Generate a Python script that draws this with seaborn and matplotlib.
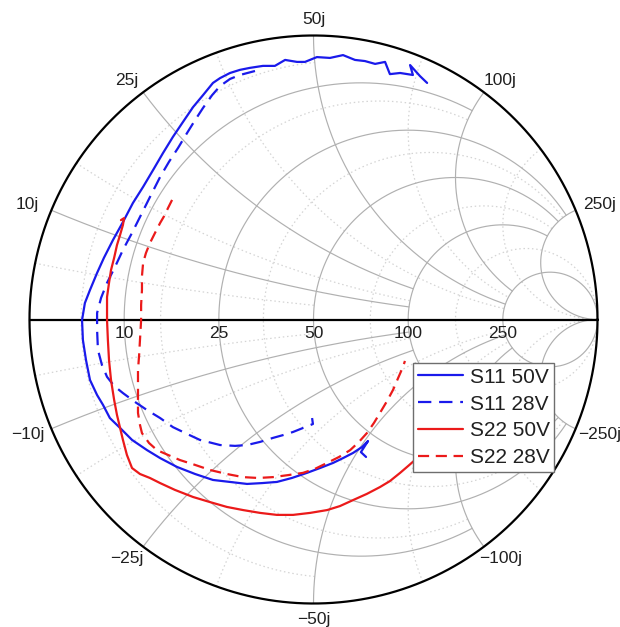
import numpy as np
import pandas as pd
import matplotlib
matplotlib.use("Agg")
import matplotlib.pyplot as plt
from matplotlib.lines import Line2D
import seaborn as sns

s11_50v_re = [0.400, 0.375, 0.340, 0.350, 0.305, 0.269, 0.252, 0.217, 0.181, 0.146, 0.104, 0.058,
              0.012, -0.030, -0.058, -0.100, -0.136, -0.178, -0.224, -0.259, -0.294, -0.329, -0.354,
              -0.389, -0.424, -0.460, -0.495, -0.530, -0.565, -0.600, -0.636, -0.671, -0.706, -0.738,
              -0.762, -0.787, -0.805, -0.815, -0.812, -0.801, -0.787, -0.762, -0.741, -0.717, -0.681,
              -0.639, -0.586, -0.540, -0.481, -0.417, -0.354, -0.294, -0.234, -0.181, -0.129, -0.076,
              -0.023, 0.023, 0.069, 0.104, 0.139, 0.171, 0.192, 0.167, 0.185]
s11_50v_im = [0.833, 0.857, 0.896, 0.861, 0.868, 0.864, 0.907, 0.900, 0.910, 0.914, 0.931, 0.921,
              0.924, 0.907, 0.907, 0.914, 0.893, 0.893, 0.886, 0.879, 0.868, 0.850, 0.833,
              0.790, 0.748, 0.695, 0.643, 0.586, 0.526, 0.467, 0.410, 0.343, 0.280, 0.217,
              0.164, 0.104, 0.058, -0.002, -0.072, -0.143, -0.213, -0.266, -0.301, -0.347, -0.382,
              -0.424, -0.460, -0.488, -0.519, -0.544, -0.565, -0.572, -0.579, -0.576, -0.572, -0.558,
              -0.540, -0.523, -0.505, -0.488, -0.470, -0.449, -0.428, -0.467, -0.484]

s11_28v_re = [-0.206, -0.259, -0.294, -0.329, -0.357, -0.389, -0.417, -0.445, -0.477, -0.509, -0.540,
              -0.576, -0.611, -0.639, -0.671, -0.699, -0.727, -0.748, -0.762, -0.762, -0.759, -0.745,
              -0.727, -0.702, -0.671, -0.629, -0.586, -0.540, -0.495, -0.445, -0.400, -0.329, -0.276,
              -0.234, -0.188, -0.143, -0.107, -0.072, -0.037, -0.002, -0.005]
s11_28v_im = [0.875, 0.861, 0.847, 0.822, 0.790, 0.745, 0.702, 0.657, 0.604, 0.555, 0.502,
              0.431, 0.361, 0.305, 0.245, 0.185, 0.129, 0.076, 0.023, -0.037, -0.107, -0.160,
              -0.202, -0.234, -0.259, -0.290, -0.319, -0.347, -0.379, -0.403, -0.424, -0.442, -0.445,
              -0.442, -0.431, -0.417, -0.407, -0.396, -0.382, -0.368, -0.347]

s22_50v_re = [-0.678, -0.667, -0.671, -0.681, -0.692, -0.702, -0.713, -0.720, -0.727, -0.727, -0.727,
              -0.724, -0.720, -0.713, -0.702, -0.692, -0.681, -0.671, -0.657, -0.639, -0.611, -0.576,
              -0.540, -0.488, -0.424, -0.364, -0.305, -0.248, -0.188, -0.129, -0.072, -0.012, 0.048,
              0.093, 0.139, 0.188, 0.234, 0.269, 0.305, 0.333, 0.357, 0.382]
s22_50v_im = [0.350, 0.357, 0.333, 0.298, 0.262, 0.217, 0.174, 0.129, 0.079, 0.033, -0.002,
              -0.072, -0.143, -0.213, -0.283, -0.336, -0.382, -0.424, -0.477, -0.523, -0.544, -0.558,
              -0.576, -0.600, -0.625, -0.643, -0.660, -0.671, -0.681, -0.688, -0.688, -0.681, -0.671,
              -0.657, -0.636, -0.614, -0.590, -0.569, -0.540, -0.516, -0.495, -0.474]

s22_28v_re = [-0.498, -0.512, -0.526, -0.540, -0.558, -0.576, -0.590, -0.600, -0.604, -0.604, -0.607,
              -0.607, -0.611, -0.614, -0.618, -0.618, -0.618, -0.611, -0.604, -0.579, -0.551, -0.512,
              -0.470, -0.417, -0.364, -0.305, -0.248, -0.195, -0.143, -0.090, -0.037, 0.005, 0.048,
              0.090, 0.129, 0.160, 0.188, 0.213, 0.234, 0.259, 0.280, 0.298, 0.315, 0.322]
s22_28v_im = [0.421, 0.393, 0.364, 0.340, 0.305, 0.269, 0.234, 0.199, 0.153, 0.104, 0.051,
              -0.002, -0.072, -0.125, -0.178, -0.248, -0.329, -0.371, -0.400, -0.435, -0.460, -0.477,
              -0.495, -0.512, -0.530, -0.544, -0.555, -0.558, -0.555, -0.548, -0.540, -0.526, -0.505,
              -0.484, -0.460, -0.431, -0.400, -0.364, -0.329, -0.287, -0.248, -0.206, -0.167, -0.146]

series_names = ["S11 50V", "S11 28V", "S22 50V", "S22 28V"]
series_colors = ["#1a1aeb", "#1a1aeb", "#eb1a1a", "#eb1a1a"]
series_dashes = ["", (6.0, 3.5), "", (5.0, 3.0)]

# Smith chart grid values (normalised, Z0 = 50 ohm)
z0 = 50
major_values = [0.2, 0.5, 1.0, 2.0, 5.0]
major_r_limit = [2.0, 5.0, 5.0, 5.0, 1e6]   # |x| extent of each resistance circle
major_x_limit = [2.0, 2.0, 5.0, 5.0, 1e6]   # r extent of each reactance arc
minor_values = [0.1, 0.3, 0.7, 1.5, 3.0]
minor_limit = [1.0, 2.0, 5.0, 5.0, 1e6]

# ---- figure ----
sns.set_theme(style="white")
plt.rcParams["font.family"] = ["Liberation Sans", "DejaVu Sans"]

W, H = 620, 627
cx, cy, R = 313.5, 319.5, 284.0
fig = plt.figure(figsize=(W / 100, H / 100), dpi=100)
ax = fig.add_axes([0, 0, 1, 1])
ax.set_xlim(-cx / R, (W - cx) / R)
ax.set_ylim(-(H - cy) / R, cy / R)
ax.axis("off")


def z2g(z):
    return (z - 1) / (z + 1)


def r_circle(r, xmax, **kw):
    t = np.linspace(-np.arctan(xmax), np.arctan(xmax), 800)
    g = z2g(r + 1j * np.tan(t))
    ax.plot(g.real, g.imag, **kw)


def x_arc(x, rmax, **kw):
    t = np.linspace(0, np.arctan(rmax), 800)
    g = z2g(np.tan(t) + 1j * x)
    ax.plot(g.real, g.imag, **kw)


minor_kw = dict(color="#d4d4d4", lw=0.9, ls=(0, (1.2, 2.2)), zorder=1)
for v, lim in zip(minor_values, minor_limit):
    r_circle(v, lim, **minor_kw)
    x_arc(v, lim, **minor_kw)
    x_arc(-v, lim, **minor_kw)

major_kw = dict(color="#b0b0b0", lw=0.85, zorder=2)
for v, xl, rl in zip(major_values, major_r_limit, major_x_limit):
    r_circle(v, xl, **major_kw)
    x_arc(v, rl, **major_kw)
    x_arc(-v, rl, **major_kw)

# outer circle and real axis
th = np.linspace(0, 2 * np.pi, 1000)
ax.plot(np.cos(th), np.sin(th), color="black", lw=1.6, zorder=3)
ax.plot([-1, 1], [0, 0], color="black", lw=1.6, zorder=3)

# labels
fs = 12.5
for v in major_values:
    g = z2g(v)
    ax.text(g.real, -13.5 / R, f"{v * z0:g}", ha="center", va="center", fontsize=fs,
            color="#202020", zorder=4)
# pixel offsets of reactance labels from their point on the outer circle
label_offset = {0.2: (-24, 6), 0.5: (-16.5, 12), 1.0: (0, 16), 2.0: (16.5, 12), 5.0: (24, 6)}
for v in major_values:
    for s in (1, -1):
        g = z2g(1j * s * v)
        dx, dy = label_offset[v]
        txt = f"{v * z0:g}j" if s > 0 else f"\u2212{v * z0:g}j"
        ax.text(g.real + dx / R, g.imag + s * dy / R, txt, ha="center", va="center",
                fontsize=fs, color="#202020", zorder=4)

# data traces through seaborn
frames = []
for name, re, im in zip(series_names,
                        [s11_50v_re, s11_28v_re, s22_50v_re, s22_28v_re],
                        [s11_50v_im, s11_28v_im, s22_50v_im, s22_28v_im]):
    frames.append(pd.DataFrame({"re": re, "im": im, "series": name}))
df = pd.concat(frames, ignore_index=True)

sns.lineplot(data=df, x="re", y="im", hue="series", style="series", sort=False,
             estimator=None, palette=dict(zip(series_names, series_colors)),
             dashes=dict(zip(series_names, series_dashes)), linewidth=1.6,
             legend=False, ax=ax, zorder=5)
ax.set_xlim(-cx / R, (W - cx) / R)
ax.set_ylim(-(H - cy) / R, cy / R)
ax.set_xlabel("")
ax.set_ylabel("")

handles = []
for c, d in zip(series_colors, series_dashes):
    h = Line2D([], [], color=c, lw=1.6)
    if d:
        h.set_dashes(d)
    handles.append(h)
leg = ax.legend(handles, series_names, loc="upper left",
                bbox_to_anchor=(413 / W, 1 - 363 / H), bbox_transform=fig.transFigure,
                fontsize=15, frameon=True, fancybox=False, edgecolor="#6e6e6e",
                framealpha=1, borderpad=0.22, handlelength=2.2, handletextpad=0.3,
                labelspacing=0.38, borderaxespad=0)
leg.get_frame().set_linewidth(1.0)
leg.set_zorder(10)
for t in leg.get_texts():
    t.set_color("#202020")

fig.savefig("out.png", dpi=100)
